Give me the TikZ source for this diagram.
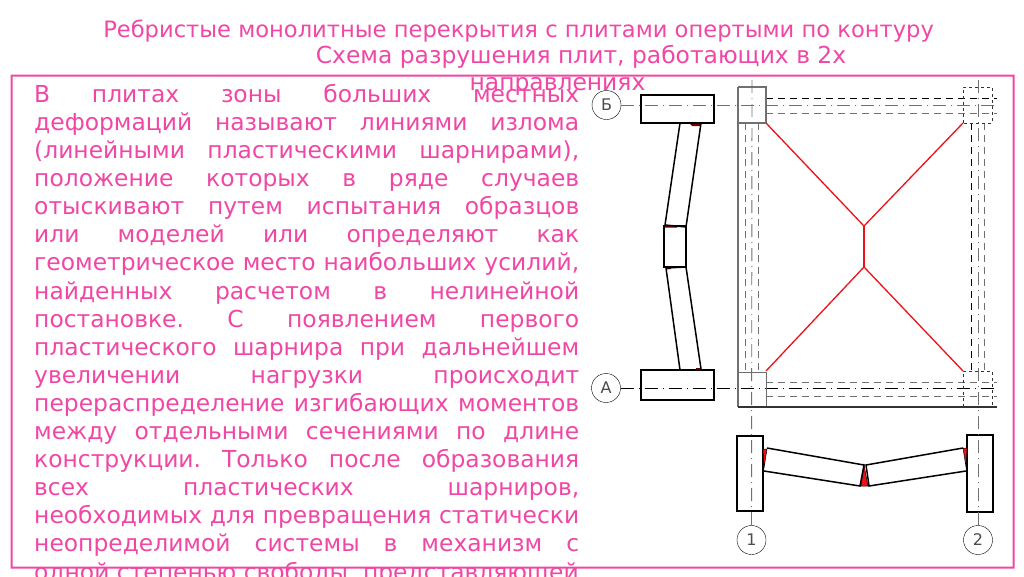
\documentclass[tikz,border=0pt]{standalone}
\usepackage{fontspec}
\setmainfont{DejaVu Sans}
\definecolor{slidepink}{HTML}{F047A5}
\definecolor{hingered}{HTML}{EE1018}
\definecolor{axisgray}{HTML}{707070}
\tikzset{
	titleline/.style={anchor=base,inner sep=0pt,text=slidepink,font=\fontsize{23.4}{27}\selectfont},
	bodytext/.style={anchor=north west,inner sep=0pt,text width=545pt,align=justify,text=slidepink,font=\fontsize{23.4}{28.1}\selectfont},
	bubble/.style={draw,circle,thin,minimum size=29pt,inner sep=0pt,text=black!70,font=\fontsize{16}{16}\selectfont},
	beamrect/.style={draw,line width=1.2pt,inner sep=0pt},
	axisline/.style={line width=0.9pt,dash pattern=on 13pt off 5pt on 1pt off 5pt},
	hiddenline/.style={line width=0.9pt,dash pattern=on 7pt off 5pt},
	sectionline/.style={line width=1.5pt},
	yieldline/.style={draw=hingered,line width=1.3pt},
	hinge/.style={fill=hingered,draw=black,line width=0.5pt},
	frameband/.style={fill=slidepink,even odd rule}
}
\begin{document}
\begin{tikzpicture}[x=1pt,y=-1pt]
	\useasboundingbox (0,0) rectangle (1024,576);
	\fill[frameband] (10.5,74.5) rectangle (1014.5,568.5) (12.5,76.5) rectangle (1012.5,566.5);
	\node[titleline,font=\fontsize{22.6}{27}\selectfont] (title1) at (518.5,37) {Ребристые монолитные перекрытия с плитами опертыми по контуру};
	\node[titleline] (title2) at (581,63.5) {Схема разрушения плит, работающих в 2х};
	\node[titleline] (title3) at (557.5,90.5) {направлениях};
	\node[bodytext] (body) at (34,84) {\sloppy\frenchspacing\parfillskip=0pt
		В плитах зоны больших местных\linebreak
		деформаций называют линиями излома\linebreak
		(линейными пластическими шарнирами),\linebreak
		положение которых в ряде случаев\linebreak
		отыскивают путем испытания образцов\linebreak
		или моделей или определяют как\linebreak
		геометрическое место наибольших усилий,\linebreak
		найденных расчетом в нелинейной\linebreak
		постановке. С появлением первого\linebreak
		пластического шарнира при дальнейшем\linebreak
		увеличении нагрузки происходит\linebreak
		перераспределение изгибающих моментов\linebreak
		между отдельными сечениями по длине\linebreak
		конструкции. Только после образования\linebreak
		всех пластических шарниров,\linebreak
		необходимых для превращения статически\linebreak
		неопределимой системы в механизм с\linebreak
		одной степенью свободы, представляющей};

	\node[bubble] (axisB) at (606.5,105) {Б};
	\node[bubble] (axisA) at (606,388) {А};
	\node[bubble] (axis1) at (751.5,540) {1};
	\node[bubble] (axis2) at (978,540) {2};
	\node[beamrect,minimum width=73pt,minimum height=28pt] (beamB) at (677.5,109) {};
	\node[beamrect,minimum width=73pt,minimum height=30pt] (beamA) at (677.5,385) {};
	\node[beamrect,minimum width=26pt,minimum height=75pt] (col1) at (750,473.5) {};
	\node[beamrect,minimum width=26pt,minimum height=77pt] (col2) at (980,473.5) {};
	\node[draw,sectionline,inner sep=0pt,minimum width=22pt,minimum height=41pt] (midrib) at (675,246.5) {};

	\coordinate (ribBend) at (738,87);
	\coordinate (endB) at (997,105);
	\coordinate (endA) at (997,388);
	\coordinate (top1) at (752,80);
	\coordinate (top2) at (978,80);
	\coordinate (edgeBtop) at (997,98);
	\coordinate (edgeBbot) at (997,113);
	\coordinate (edgeAtop) at (997,382);
	\coordinate (edgeAbot) at (997,396);

	\draw[axisline,axisgray] (axisB)--(endB);
	\draw[axisline] (axisA)--(endA);
	\draw[axisline,axisgray] (top1)--(axis1);
	\draw[axisline,axisgray] (top2)--(axis2);

	\draw[hiddenline] (766,98)--(edgeBtop);
	\draw[hiddenline,axisgray] (766,113)--(edgeBbot);
	\draw[hiddenline,axisgray] (766,382)--(edgeAtop);
	\draw[hiddenline,axisgray] (766,396)--(edgeAbot);
	\draw[hiddenline,axisgray] (745,123)--(745,372);
	\draw[hiddenline,axisgray] (758,123)--(758,372);
	\draw[hiddenline] (971,123)--(971,371);
	\draw[hiddenline,axisgray] (984,123)--(984,371);

	\draw[axisgray,line width=1.1pt] (ribBend)--(766,87)--(766,123)--(738,123);
	\draw[axisgray,line width=1.1pt] (738,407)--(738,87);
	\draw[axisgray,line width=0.8pt] (738,372)--(766,372)--(766,407);
	\draw[black!80,line width=1.2pt] (738,407)--(997,407);
	\draw[black!80,dashed,line width=0.8pt] (963,123)--(963,87)--(992,87)--(992,123)--cycle;
	\draw[black!80,dashed,line width=0.8pt] (963,407)--(963,371)--(992,371)--(992,407);

	\coordinate (cornerNW) at (766,123);
	\coordinate (cornerNE) at (963,123);
	\coordinate (cornerSW) at (766,371);
	\coordinate (cornerSE) at (963,371);
	\coordinate (yieldT) at (864,226);
	\coordinate (yieldB) at (864,267);
	\draw[yieldline] (cornerNW)--(yieldT)--(cornerNE);
	\draw[yieldline] (yieldT)--(yieldB);
	\draw[yieldline] (cornerSW)--(yieldB)--(cornerSE);

	\fill[black!60!red] (690,124)--(701,123.5)--(700.5,126)--(692,126)--cycle;
	\fill[black!60!red] (665,225)--(677,226)--(677,227.5)--(665,227.5)--cycle;
	\fill[black!60!red] (666,267.5)--(671,267)--(671,269)--(666,269.5)--cycle;
	\fill[black!60!red] (696,368)--(701,368)--(701,370)--(696,370)--cycle;
	\draw[sectionline] (680,123)--(665,225)--(686,227)--(701,123);
	\draw[sectionline] (666,268)--(686,267)--(701,369);
	\draw[sectionline] (666,268)--(680,370);

	\fill[hinge] (763,449)--(767,449)--(764,468)--cycle;
	\fill[hinge] (963,448)--(967,448)--(966,467)--cycle;
	\fill[hinge] (864,465)--(868,486)--(861,486)--cycle;
	\draw[sectionline] (767,448)--(864,465)--(860,486)--(764,471);
	\draw[sectionline] (963,448)--(866,465)--(869,486)--(966,471);
\end{tikzpicture}
\end{document}
